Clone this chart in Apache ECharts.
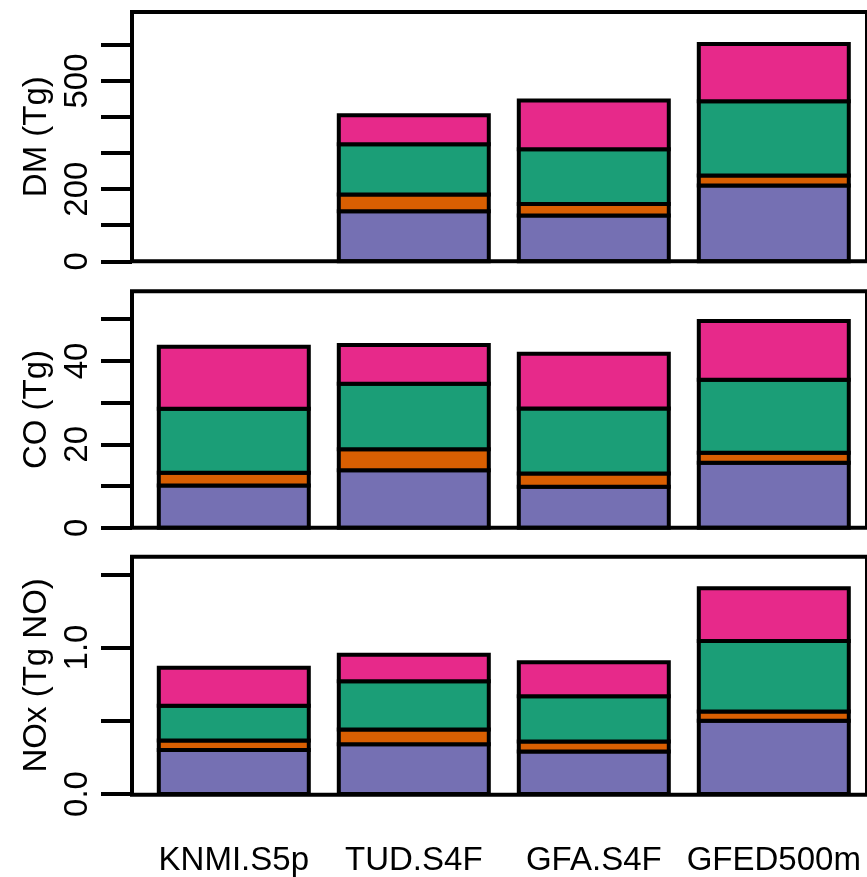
<!DOCTYPE html>
<html>
<head>
<meta charset="utf-8">
<script src="https://cdn.jsdelivr.net/npm/echarts@6/dist/echarts.min.js"></script>
<style>html,body{margin:0;padding:0;background:#fff}#c{width:867px;height:877px}</style>
</head>
<body>
<div id="c"></div>
<script>
// ---- data ----
const categories = ['KNMI.S5p', 'TUD.S4F', 'GFA.S4F', 'GFED500m'];
const colors = ['#7570B3', '#D95F02', '#1B9E77', '#E7298A'];

// DM (Tg) – bottom to top segments
const dmPurple = [null, 139, 127, 210];
const dmOrange = [null, 46, 32, 28];
const dmGreen  = [null, 140, 152, 206];
const dmPink   = [null, 80, 135, 159];

// CO (Tg)
const coPurple = [10.1, 13.8, 9.8, 15.6];
const coOrange = [3.1, 5.0, 3.2, 2.4];
const coGreen  = [15.3, 15.7, 15.6, 17.5];
const coPink   = [14.9, 9.3, 13.1, 14.1];

// NOx (Tg NO)
const noxPurple = [0.30, 0.34, 0.29, 0.50];
const noxOrange = [0.066, 0.10, 0.069, 0.063];
const noxGreen  = [0.237, 0.33, 0.309, 0.482];
const noxPink   = [0.259, 0.18, 0.232, 0.359];

const dmTicks = [0, 100, 200, 300, 400, 500, 600];
const dmLabels = [0, 200, 500];
const coTicks = [0, 10, 20, 30, 40, 50];
const coLabels = [0, 20, 40];
const noxTicks = [0, 0.5, 1.0, 1.5];
const noxLabels = [0, 1.0];

const panels = [
  {name: 'DM (Tg)', max: 691.5, ticks: dmTicks, labels: dmLabels, dec: 0,
   series: [dmPurple, dmOrange, dmGreen, dmPink], top: 12, bottom: 877 - 261.3},
  {name: 'CO (Tg)', max: 56.7, ticks: coTicks, labels: coLabels, dec: 0,
   series: [coPurple, coOrange, coGreen, coPink], top: 291.3, bottom: 877 - 527.7},
  {name: 'NOx (Tg NO)', max: 1.62, ticks: noxTicks, labels: noxLabels, dec: 1,
   series: [noxPurple, noxOrange, noxGreen, noxPink], top: 556.7, bottom: 877 - 794.7}
];

const FONT = 'Liberation Sans, Arial, sans-serif';
const BAR_FRACTION = 1 / 1.2; // bar width relative to category band (R barplot space = 0.2)
const grid = [], xAxis = [], yAxis = [], series = [];

function makeRender(color) {
  return function (params, api) {
    const lo = api.value(1), hi = api.value(2);
    if (hi == null || isNaN(hi)) return null;
    const i = api.value(0);
    const p0 = api.coord([i, lo]);
    const p1 = api.coord([i, hi]);
    const w = api.size([1, 0])[0] * BAR_FRACTION;
    return {
      type: 'rect',
      shape: {x: p0[0] - w / 2, y: p1[1], width: w, height: p0[1] - p1[1]},
      style: {fill: color, stroke: '#000', lineWidth: 4}
    };
  };
}

panels.forEach((p, i) => {
  grid.push({left: 143.8, right: 3.2, top: p.top, bottom: p.bottom, containLabel: false});
  grid.push({left: 132, right: -9.4, top: p.top, bottom: p.bottom, show: true,
             borderColor: '#000', borderWidth: 4, backgroundColor: 'transparent', z: 5});
  const last = i === panels.length - 1;
  xAxis.push({
    type: 'category', gridIndex: 2 * i, data: categories,
    axisLine: {show: false}, axisTick: {show: false},
    axisLabel: {show: last, fontSize: 33, color: '#000', fontFamily: FONT, margin: 50, interval: 0}
  });
  xAxis.push({type: 'value', gridIndex: 2 * i + 1, show: false});
  yAxis.push({
    type: 'value', gridIndex: 2 * i, min: 0, max: p.max, offset: 11.8,
    name: p.name, nameLocation: 'middle', nameRotate: 90, nameGap: 79,
    nameTextStyle: {fontSize: 33, color: '#000', fontFamily: FONT},
    axisLine: {show: false},
    splitLine: {show: false},
    axisTick: {show: true, length: 31, lineStyle: {color: '#000', width: 4}, customValues: p.ticks},
    axisLabel: {show: true, rotate: 90, fontSize: 33, color: '#000', fontFamily: FONT, margin: 38,
                customValues: p.labels, formatter: v => Number(v).toFixed(p.dec)}
  });
  yAxis.push({type: 'value', gridIndex: 2 * i + 1, show: false, min: 0, max: 1});

  // stacked segments: base = sum of the segments below
  const base = categories.map(() => 0);
  p.series.forEach((arr, k) => {
    const data = arr.map((v, j) => {
      if (v == null) return [j, null, null];
      const lo = base[j];
      base[j] += v;
      return [j, lo, base[j]];
    });
    series.push({
      type: 'custom', xAxisIndex: 2 * i, yAxisIndex: 2 * i,
      renderItem: makeRender(colors[k]),
      encode: {x: 0, y: [1, 2]},
      data: data, silent: true, z: 2 + k
    });
  });
});

const chart = echarts.init(document.getElementById('c'), null, {renderer: 'canvas'});
chart.setOption({animation: false, backgroundColor: '#fff', grid, xAxis, yAxis, series});
</script>
</body>
</html>
